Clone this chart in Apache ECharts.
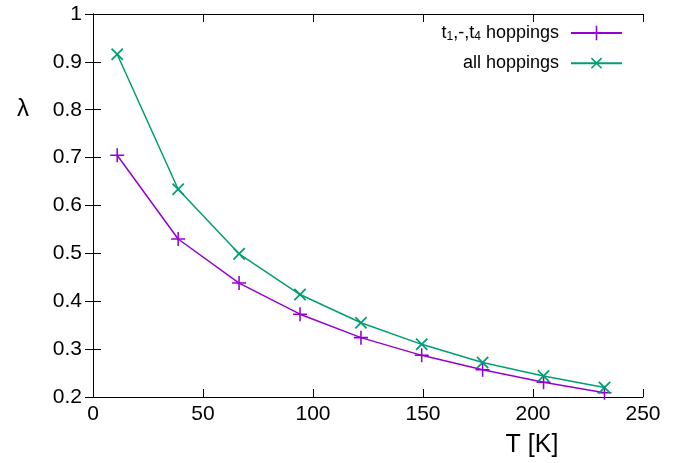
<!DOCTYPE html>
<html><head><meta charset="utf-8">
<script src="https://cdn.jsdelivr.net/npm/echarts@6/dist/echarts.min.js"></script>
<style>html,body{margin:0;padding:0;background:#fff}#c{width:690px;height:463px}</style>
</head><body><div id="c"></div>
<script>
const temps = [11, 38.7, 66.4, 94.1, 121.8, 149.4, 177.1, 204.8, 232.5];
const lambdaT1T4 = [0.705, 0.530, 0.438, 0.373, 0.324, 0.287, 0.257, 0.231, 0.209];
const lambdaAll = [0.916, 0.634, 0.499, 0.414, 0.355, 0.310, 0.272, 0.244, 0.220];
const seriesNames = ['t1,-,t4 hoppings', 'all hoppings'];
const xTicks = [0, 50, 100, 150, 200, 250];
const yTicks = [0.2, 0.3, 0.4, 0.5, 0.6, 0.7, 0.8, 0.9, 1];

const FONT = 'Liberation Sans, Arial, Helvetica, sans-serif';
const PURPLE = '#9400D3', GREEN = '#009E73';
const plus = 'path://M0,4.45H4.45V0H5.55V4.45H10V5.55H5.55V10H4.45V5.55H0Z';
const pair = arr => temps.map((t, i) => [t, arr[i]]);

const chart = echarts.init(document.getElementById('c'));
const baseX = {type: 'value', min: xTicks[0], max: xTicks[xTicks.length-1], interval: 50,
  axisLine: {show: true, lineStyle: {color: '#000', width: 1}}, splitLine: {show: false},
  axisTick: {show: true, inside: true, length: 8, lineStyle: {color: '#000'}}};
const baseY = {type: 'value', min: yTicks[0], max: yTicks[yTicks.length-1], interval: 0.1,
  axisLine: {show: true, lineStyle: {color: '#000', width: 1}}, splitLine: {show: false},
  axisTick: {show: true, inside: true, length: 8, lineStyle: {color: '#000'}}};
chart.setOption({
  animation: false,
  backgroundColor: '#fff',
  grid: {left: 93, right: 47, top: 14, bottom: 66, containLabel: false},
  xAxis: [
    Object.assign({}, baseX, {position: 'bottom',
      axisLabel: {show: true, color: '#000', fontSize: 21, fontFamily: FONT, margin: 7}}),
    Object.assign({}, baseX, {position: 'top', axisLabel: {show: false}})
  ],
  yAxis: [
    Object.assign({}, baseY, {position: 'left',
      axisLabel: {show: true, color: '#000', fontSize: 21, fontFamily: FONT, margin: 11,
        formatter: v => String(Math.round(v * 10) / 10)}}),
    Object.assign({}, baseY, {position: 'right', axisLabel: {show: false}})
  ],
  legend: {
    right: 62, top: 19, orient: 'vertical', align: 'right', itemGap: 10,
    itemWidth: 51, itemHeight: 18,
    textStyle: {fontSize: 18, fontFamily: FONT, color: '#000',
      rich: {a: {fontSize: 18, fontFamily: FONT, color: '#000', lineHeight: 20},
             s: {fontSize: 12, fontFamily: FONT, color: '#000', lineHeight: 10, verticalAlign: 'bottom'},
             g: {width: 7, fontSize: 18, lineHeight: 20}}},
    formatter: function (name) {
      if (name === seriesNames[0]) return '{a|t}{s|1}{a|,-,t}{s|4}{a| hoppings}{g| }';
      return '{a|' + name + '}{g| }';
    },
    data: seriesNames
  },
  graphic: [
    {type: 'text', x: 23, y: 109, style: {text: 'λ', fontSize: 24, fontFamily: FONT, fill: '#000', align: 'center', verticalAlign: 'middle'}},
    {type: 'text', x: 532, y: 445, style: {text: 'T [K]', fontSize: 25, fontFamily: FONT, fill: '#000', align: 'center', verticalAlign: 'middle'}}
  ],
  series: [
    {name: seriesNames[0], type: 'line', data: pair(lambdaT1T4),
      symbol: plus, symbolSize: 14, showAllSymbol: true,
      lineStyle: {color: PURPLE, width: 1.5}, itemStyle: {color: PURPLE}},
    {name: seriesNames[1], type: 'line', data: pair(lambdaAll),
      symbol: plus, symbolSize: 16, symbolRotate: 45, showAllSymbol: true,
      lineStyle: {color: GREEN, width: 1.5}, itemStyle: {color: GREEN}}
  ]
});
</script></body></html>
